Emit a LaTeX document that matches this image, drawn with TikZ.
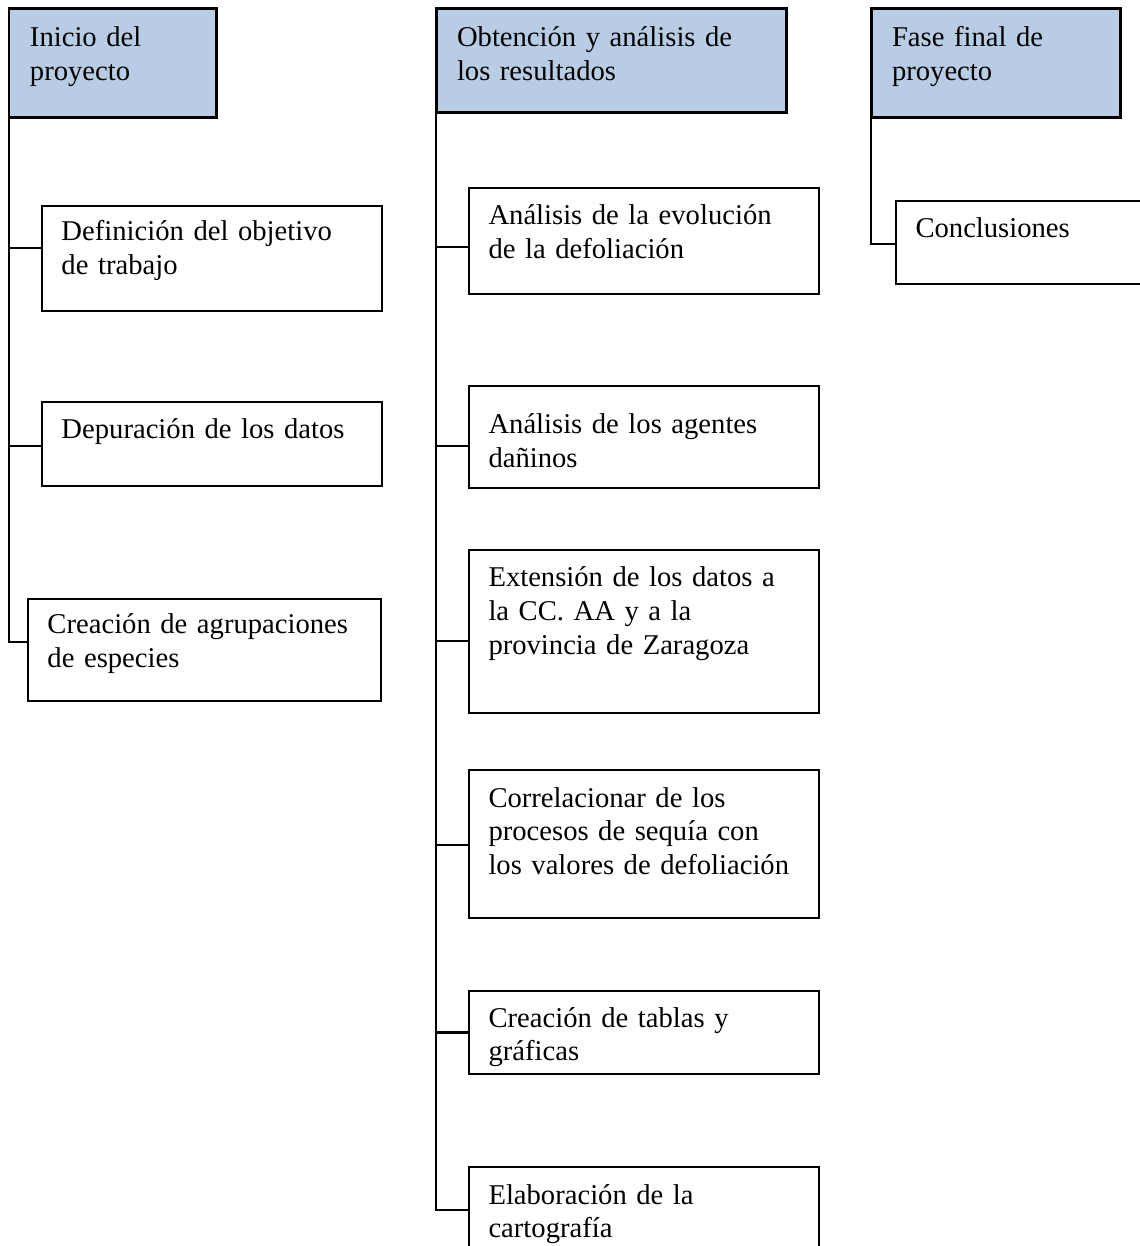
\documentclass[tikz,border=0pt]{standalone}
\usepackage{fontspec}
\setmainfont{Liberation Serif}
\usepackage{tikz}
\definecolor{phaseblue}{HTML}{B8CCE4}

\begin{document}
\begin{tikzpicture}[x=0.02cm,y=-0.02cm,
  phase/.style={draw,line width=1.7pt,fill=phaseblue,anchor=north west,outer sep=0pt,
    inner xsep=0.42cm,inner ysep=0pt,align=left,
    font=\fontsize{16.3}{19.3}\selectfont},
  task/.style={draw,line width=1.2pt,anchor=north west,outer sep=0pt,
    inner xsep=0.39cm,inner ysep=0pt,align=left,
    font=\fontsize{16.3}{19.3}\selectfont},
  link/.style={line width=1.2pt}]
  \useasboundingbox (0,0) rectangle (1139,1246);
  \node[phase,text width=3.32cm,text height=0.76cm,text depth=1.42cm] (ini) at (9,9) {Inicio del\\proyecto};
  \node[phase,text width=6.18cm,text height=0.76cm,text depth=1.32cm] (obt) at (436,9) {Obtención y análisis de\\los resultados};
  \node[phase,text width=4.16cm,text height=0.76cm,text depth=1.42cm] (fin) at (871,9) {Fase final de\\proyecto};

  \node[task,text width=6.02cm,text height=0.70cm,text depth=1.40cm] (def) at (42,206) {Definición del objetivo\\de trabajo};
  \node[task,text width=6.02cm,text height=0.74cm,text depth=0.94cm] (dep) at (42,402) {Depuración de los datos};
  \node[task,text width=6.28cm,text height=0.70cm,text depth=1.34cm] (agr) at (28,599) {Creación de agrupaciones\\de especies};

  \node[task,text width=6.22cm,text height=0.74cm,text depth=1.38cm] (evo) at (469,188) {Análisis de la evolución\\de la defoliación};
  \node[task,text width=6.22cm,text height=0.96cm,text depth=1.08cm] (age) at (469,386) {Análisis de los agentes\\dañinos};
  \node[task,text width=6.22cm,text height=0.74cm,text depth=2.52cm] (ext) at (469,550) {Extensión de los datos a\\la CC. AA y a la\\provincia de Zaragoza};
  \node[task,text width=6.22cm,text height=0.74cm,text depth=2.22cm] (cor) at (469,770) {Correlacionar de los\\procesos de sequía con\\los valores de defoliación};
  \node[task,text width=6.22cm,text height=0.72cm,text depth=0.94cm] (tab) at (469,991) {Creación de tablas y\\gráficas};
  \node[task,text width=6.22cm,text height=0.74cm,text depth=0.98cm] (car) at (469,1167) {Elaboración de la\\cartografía};

  \node[task,text width=4.30cm,text height=0.74cm,text depth=0.92cm] (con) at (896,201) {Conclusiones};

  \foreach \n/\s in {def/0.21,dep/-0.04,agr/0.16}{
  \draw[link] (ini.south west) |- ([yshift=\s cm]\n.west);
  }
  \foreach \n/\s in {evo/-0.12,age/-0.18,ext/-0.19,cor/-0.02,tab/0,car/0}{
  \draw[link] (obt.south west) |- ([yshift=\s cm]\n.west);
  }
  \draw[link] (fin.south west) |- ([yshift=-0.03cm]con.west);
\end{tikzpicture}
\end{document}
